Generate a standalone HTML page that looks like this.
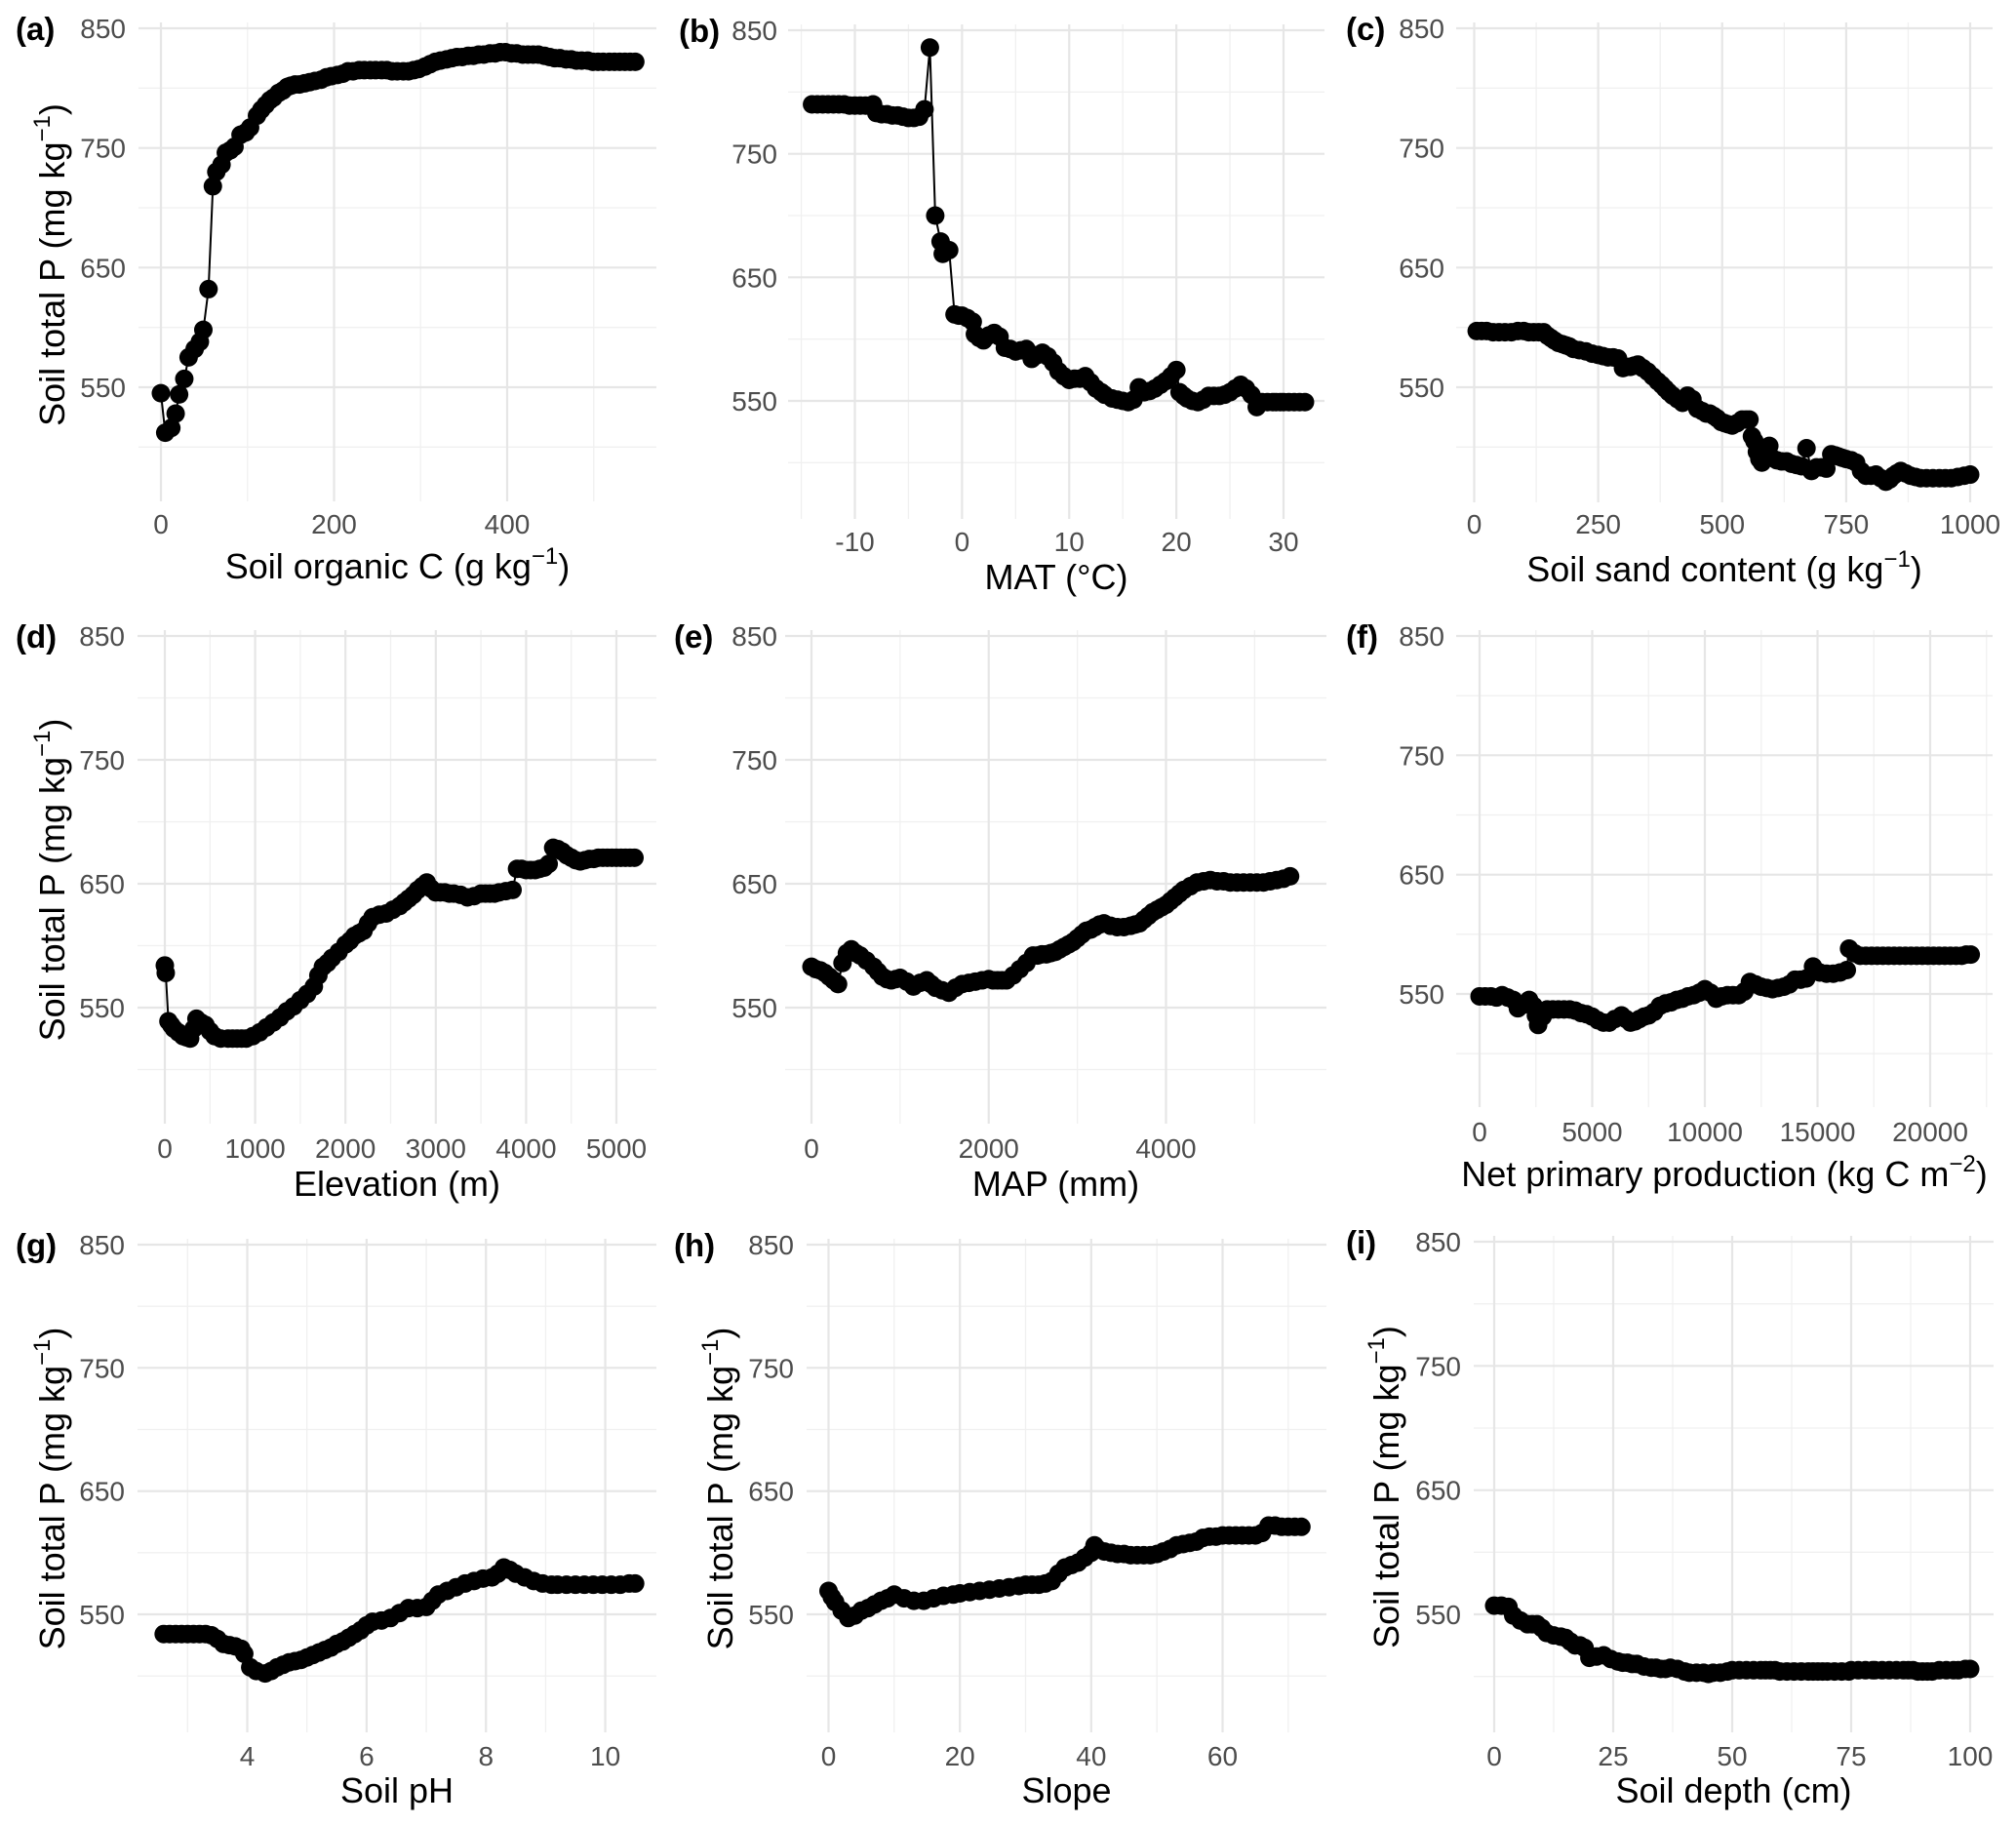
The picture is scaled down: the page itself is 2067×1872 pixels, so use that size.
<!DOCTYPE html>
<html><head><meta charset="utf-8">
<style>
html,body{margin:0;padding:0;background:#fff;}
svg{display:block;font-family:"Liberation Sans",Arial,sans-serif;}
</style></head>
<body>
<svg id="fig" width="2067" height="1872" viewBox="0 0 2067 1872" xmlns="http://www.w3.org/2000/svg"></svg>
<script>
// ---- data ----
const aX=[0,5,12,17,21,27,32,39,45,49,55,60,64,70,75,80,85,92,98,103,111,116,121,126,130,136,141,146,150,155,160,166,172,178,185,191,197,204,210,216,222,229,235,242,248,255,261,267,273,280,286,292,298,305,311,317,323,330,336,342,348,355,361,367,373,380,386,392,398,405,411,418,424,430,436,443,449,455,461,468,474,480,486,493,499,505,511,518,524,530,536,542,548];
const aY=[545,512,516,528,544,557,575,582,588,598,632,718,730,736,746,748,751,761,763,767,777,782,786,790,792,796,798,801,802,803,803,804,805,806,807,809,810,811,812,814,814,815,815,815,815,815,815,814,814,814,814,815,816,818,820,822,823,824,825,826,826,827,827,828,828,829,829,830,830,829,829,828,828,828,828,827,826,825,825,824,824,823,823,823,822,822,822,822,822,822,822,822,822];
const bX=[-14,-13.5,-13,-12.5,-12,-11.5,-11,-10.5,-10,-9.5,-9,-8.5,-8.3,-8,-7.5,-7,-6.5,-6,-5.5,-5,-4.5,-4,-3.5,-3,-2.5,-2,-1.8,-1.2,-0.7,-0.3,0,0.5,1,1.2,1.6,2,2.5,3,3.5,4,4.5,5,5.5,6,6.5,7,7.5,8,8.5,9,9.5,10,10.5,11,11.5,12,12.5,13,13.3,14,14.5,15,15.5,16,16.5,17,17.5,18,18.5,19,19.5,20,20.3,20.7,21,21.5,22,22.5,23,23.5,24,24.5,25,25.5,26,26.5,27,27.5,28,28.5,29,29.3,29.7,30,30.5,31,31.5,32];
const bY=[790,790,790,790,790,790,790,789,789,789,789,789,790,783,782,782,781,781,780,779,779,780,786,836,700,679,669,672,620,619,619,617,614,604,601,599,603,605,602,593,592,590,591,592,584,587,589,586,581,574,570,567,568,568,570,565,560,557,555,552,551,550,549,551,561,557,558,560,563,566,570,575,557,554,552,550,549,551,554,554,554,555,557,560,563,560,555,545,549,549,549,549,549,549,549,549,549,549];
const cX=[5,15,25,38,50,62,75,88,100,110,120,130,140,148,155,162,170,178,185,192,200,212,225,238,250,260,270,280,290,300,308,315,322,330,340,350,360,370,378,385,392,400,410,420,430,440,450,460,468,475,483,490,498,505,512,520,530,540,548,555,560,565,570,575,580,588,595,600,610,620,630,640,650,660,670,680,690,700,710,720,728,735,742,750,760,770,780,790,800,810,820,830,838,845,852,860,870,880,890,900,912,925,938,950,962,975,988,1000];
const cY=[597,597,597,596,596,596,596,597,597,596,596,596,596,593,591,589,587,586,585,584,582,581,580,578,577,576,575,575,574,566,567,567,568,569,566,563,559,555,552,549,546,543,540,537,543,540,532,530,528,528,526,524,521,520,519,518,520,523,523,523,509,505,496,490,487,498,501,491,489,488,488,486,485,484,499,480,483,483,482,494,493,492,491,490,489,487,480,476,476,477,474,471,473,476,478,480,478,476,475,474,474,474,474,474,474,475,476,477];
const dX=[0,10,40,70,100,150,200,240,280,320,350,400,450,500,550,620,700,750,800,850,900,975,1050,1125,1200,1275,1350,1425,1500,1575,1650,1700,1750,1800,1850,1925,2000,2050,2100,2150,2200,2250,2300,2375,2450,2525,2600,2650,2700,2750,2800,2850,2900,2950,3000,3050,3100,3150,3200,3275,3350,3425,3500,3550,3600,3650,3700,3775,3850,3900,3950,4000,4050,4100,4150,4200,4250,4300,4350,4400,4450,4500,4550,4600,4650,4700,4750,4800,4850,4900,4950,5000,5050,5100,5150,5200];
const dY=[584,578,539,536,533,530,527,526,525,533,541,538,536,531,527,525,525,525,525,525,525,527,530,534,538,542,547,551,556,561,567,576,583,586,590,595,601,604,608,610,612,618,623,625,626,629,632,635,638,641,645,648,651,646,643,643,643,642,642,641,639,640,642,642,642,642,643,644,645,662,662,661,661,661,662,663,666,679,678,676,673,671,669,668,669,670,670,671,671,671,671,671,671,671,671,671];
const eX=[0,50,100,150,200,250,300,350,400,450,500,550,620,700,750,800,850,900,950,1000,1075,1150,1225,1300,1350,1400,1475,1550,1625,1700,1775,1850,1925,2000,2050,2100,2150,2200,2275,2350,2425,2500,2550,2600,2650,2700,2750,2800,2850,2900,2950,3000,3050,3100,3150,3200,3250,3300,3375,3450,3525,3600,3650,3700,3750,3800,3850,3900,3950,4000,4050,4100,4150,4200,4275,4350,4425,4500,4575,4650,4725,4800,4875,4950,5025,5100,5175,5250,5325,5400];
const eY=[583,581,580,578,575,572,569,586,594,597,594,592,588,583,579,575,573,572,573,574,571,567,570,572,569,566,564,562,566,569,570,571,572,573,572,572,572,572,576,581,586,592,592,593,593,594,595,597,599,601,603,606,609,612,613,615,617,618,616,615,615,616,617,618,621,624,627,629,631,633,636,639,642,645,648,651,652,653,652,652,651,651,651,651,651,651,652,653,654,656];
const fX=[0,250,500,750,1000,1250,1500,1700,1950,2200,2400,2500,2600,2800,3000,3250,3500,3750,4000,4250,4500,4750,5000,5250,5500,5750,6000,6300,6500,6700,6900,7100,7300,7500,7750,8000,8250,8500,8750,9000,9250,9500,9750,10000,10250,10500,10750,11000,11250,11500,11750,12000,12250,12500,12750,13000,13250,13500,13750,14000,14250,14500,14800,15100,15400,15700,16000,16300,16400,16650,16900,17150,17400,17650,17900,18150,18400,18650,18900,19150,19400,19650,19900,20150,20400,20650,20900,21150,21400,21600,21800];
const fY=[548,548,548,547,549,547,545,538,541,545,540,532,524,531,537,537,537,537,537,536,534,533,531,528,526,526,529,532,529,526,527,529,531,532,535,540,542,543,545,546,548,549,551,554,551,546,548,549,549,549,552,560,558,556,555,554,555,556,558,562,562,563,573,568,567,567,568,570,588,584,582,582,582,582,582,582,582,582,582,582,582,582,582,582,582,582,582,582,582,583,583];
const gX=[2.6,2.7,2.8,2.9,3.0,3.1,3.2,3.3,3.4,3.5,3.6,3.7,3.8,3.9,3.95,4.05,4.15,4.3,4.4,4.5,4.6,4.7,4.8,4.9,5.0,5.1,5.2,5.3,5.4,5.5,5.6,5.7,5.8,5.9,6.0,6.1,6.25,6.4,6.55,6.7,6.85,7.0,7.1,7.2,7.35,7.5,7.65,7.8,7.95,8.1,8.2,8.3,8.4,8.5,8.65,8.8,8.95,9.1,9.2,9.35,9.5,9.65,9.8,9.95,10.1,10.25,10.4,10.5];
const gY=[534,534,534,534,534,534,534,534,533,530,526,525,524,522,518,507,504,502,504,507,509,511,512,513,515,517,519,521,523,526,528,531,534,537,541,544,545,547,551,555,555,556,561,566,569,572,575,577,579,580,583,588,586,583,580,577,575,574,574,574,574,574,574,574,574,574,575,575];
const hX=[0,0.5,1,2,3,4,5,6,7,8,9,10,11.5,13,14.5,16,17.5,19,20,21.5,23,24.5,26,27.5,29,30,31,32,33,34,35,36,37,38,39,40,40.5,41,42,43,44,45,46,47,48,49,50,51,52,53,54,55,56,57,58,59,60,61,62,63,64,65,66,67,68,69,70,71,72];
const hY=[569,564,560,553,547,549,553,555,558,561,563,566,563,561,561,563,565,566,567,568,569,570,571,572,573,574,574,574,575,577,583,588,590,592,596,600,606,603,601,600,599,599,598,598,598,598,599,601,603,606,607,608,609,612,613,613,614,614,614,614,614,614,616,622,622,621,621,621,621];
const iX=[0,1.5,3,4,5.5,7,8,9,10,11,12.5,14,15,16,17,18,19,20,21.5,23,24.5,26,27,28,29,30,31.5,33,34,35,36,37,38.5,40,41,42.5,44,45,46,47.5,49,50,51.5,53,54.5,56,57,58,59,60,61.5,63,64.5,66,67,68,69,70,71.5,73,74.5,75,76.5,78,79.5,80,81.5,83,84.5,86,87,88,89,90,91,92,93.5,95,96.5,97.5,99,100];
const iY=[557,557,556,549,545,542,542,542,539,535,533,532,531,528,525,525,523,515,516,517,514,512,511,511,510,510,508,507,507,506,506,507,506,504,503,503,503,502,503,503,504,505,505,505,505,505,505,505,505,504,504,504,504,504,504,504,504,504,504,504,504,505,505,505,505,505,505,505,505,505,505,505,504,504,504,504,505,505,505,505,506,506];
const yTicks=[550,650,750,850];
const yMinor=[500,600,700,800];

const W3='http://www.w3.org/2000/svg';
const svg=document.getElementById('fig');
function mk(tag,attrs,parent){const e=document.createElementNS(W3,tag);for(const k in attrs)e.setAttribute(k,attrs[k]);(parent||svg).appendChild(e);return e;}

const SUP='<tspan dy="-15" font-size="24">−1</tspan><tspan dy="15">)</tspan>';
const SUP2='<tspan dy="-15" font-size="24">−2</tspan><tspan dy="15">)</tspan>';
const YT='Soil total P (mg kg'+SUP;

const panels=[
 {id:'a',xs:aX,ys:aY,l:142,r:673,t:29,y850:29,y550:397,b:514,tk:[0,200,400],px0:165,px1:520,tly:547,tty:593,title:'Soil organic C (g kg'+SUP,ylab:129,ytitle:54,lx:16},
 {id:'b',xs:bX,ys:bY,l:808,r:1358,t:31,y850:31,y550:411,b:532,tk:[-10,0,10,20,30],px0:876.5,px1:1316,tly:565,tty:604,title:'MAT (°C)',ylab:797,ytitle:null,lx:696},
 {id:'c',xs:cX,ys:cY,l:1493,r:2043,t:29,y850:29,y550:397,b:515,tk:[0,250,500,750,1000],px0:1511.5,px1:2020,tly:547,tty:596,title:'Soil sand content (g kg'+SUP,ylab:1481,ytitle:null,lx:1380},
 {id:'d',xs:dX,ys:dY,l:141,r:673,t:652,y850:652,y550:1033,b:1152,tk:[0,1000,2000,3000,4000,5000],px0:169,px1:632,tly:1187,tty:1226,title:'Elevation (m)',ylab:128,ytitle:54,lx:16},
 {id:'e',xs:eX,ys:eY,l:805,r:1360,t:652,y850:652,y550:1033,b:1152,tk:[0,2000,4000],px0:832,px1:1195.5,tly:1187,tty:1226,title:'MAP (mm)',ylab:797,ytitle:null,lx:691},
 {id:'f',xs:fX,ys:fY,l:1493,r:2043,t:652,y850:652,y550:1019,b:1135,tk:[0,5000,10000,15000,20000],px0:1517,px1:1979,tly:1170,tty:1216,title:'Net primary production (kg C m'+SUP2,ylab:1481,ytitle:null,lx:1380},
 {id:'g',xs:gX,ys:gY,l:141,r:673,t:1276,y850:1276,y550:1655,b:1776,tk:[4,6,8,10],px0:253.5,px1:620.6,tly:1810,tty:1848,title:'Soil pH',ylab:128,ytitle:54,lx:16},
 {id:'h',xs:hX,ys:hY,l:827,r:1360,t:1276,y850:1276,y550:1655,b:1776,tk:[0,20,40,60],px0:849.5,px1:1253.5,tly:1810,tty:1848,title:'Slope',ylab:814,ytitle:739,lx:691},
 {id:'i',xs:iX,ys:iY,l:1511,r:2044,t:1273,y850:1273,y550:1655,b:1776,tk:[0,25,50,75,100],px0:1532,px1:2020,tly:1810,tty:1848,title:'Soil depth (cm)',ylab:1498,ytitle:1422,lx:1380}
];

panels.forEach(p=>{
  const g=mk('g',{});
  
  
  const t0=p.tk[0],t1=p.tk[p.tk.length-1];
  const X=v=>p.px0+(v-t0)*(p.px1-p.px0)/(t1-t0);
  const Y=v=>p.y550+(v-550)*(p.y850-p.y550)/300;
  const top=p.t-6;
  const step=p.tk[1]-p.tk[0];
  for(let v=t0-step/2; v<=t1+step; v+=step){const x=X(v); if(x>=p.l&&x<=p.r){const ln=mk('line',{x1:x,x2:x,y1:top,y2:p.b,stroke:'#f0f0f0','stroke-width':1.3},g);}}
  yMinor.forEach(v=>{const y=Y(v); if(y<=p.b){const ln=mk('line',{x1:p.l,x2:p.r,y1:y,y2:y,stroke:'#f0f0f0','stroke-width':1.3},g);}});
  p.tk.forEach(v=>{const x=X(v);const ln=mk('line',{x1:x,x2:x,y1:top,y2:p.b,stroke:'#e6e6e6','stroke-width':2.2},g);
    const tx=mk('text',{x:x,y:p.tly,'font-size':28,fill:'#4d4d4d','text-anchor':'middle'},g);tx.textContent=v;});
  yTicks.forEach(v=>{const y=Y(v);const ln=mk('line',{x1:p.l,x2:p.r,y1:y,y2:y,stroke:'#e6e6e6','stroke-width':2.2},g);
    const tx=mk('text',{x:p.ylab,y:y+10,'font-size':28,fill:'#4d4d4d','text-anchor':'end'},g);tx.textContent=v;});
  const pts=p.xs.map((v,i)=>X(v).toFixed(1)+','+Y(p.ys[i]).toFixed(1)).join(' ');
  const pl=mk('polyline',{points:pts,fill:'none',stroke:'#000','stroke-width':2},g);
  
  
  p.xs.forEach((v,i)=>{const c=mk('circle',{cx:X(v),cy:Y(p.ys[i]),r:9.5,fill:'#000'},g);
    
    });
  const xt=mk('text',{x:(p.l+p.r)/2,y:p.tty,'font-size':36,fill:'#000','text-anchor':'middle'},g);
  xt.innerHTML=p.title;
  
  
  if(p.ytitle!==null){const cy=(p.t+p.b)/2;const yt=mk('text',{x:0,y:0,'font-size':36,fill:'#000','text-anchor':'middle',transform:'translate('+(p.ytitle+12)+','+cy+') rotate(-90)'},g);
    yt.innerHTML=YT;
    
    }
  const lb=mk('text',{x:p.lx,y:p.y850+12,'font-size':33,'font-weight':'bold',fill:'#000'},g);
  lb.textContent='('+p.id+')';
  
  
});
</script>
</body></html>
